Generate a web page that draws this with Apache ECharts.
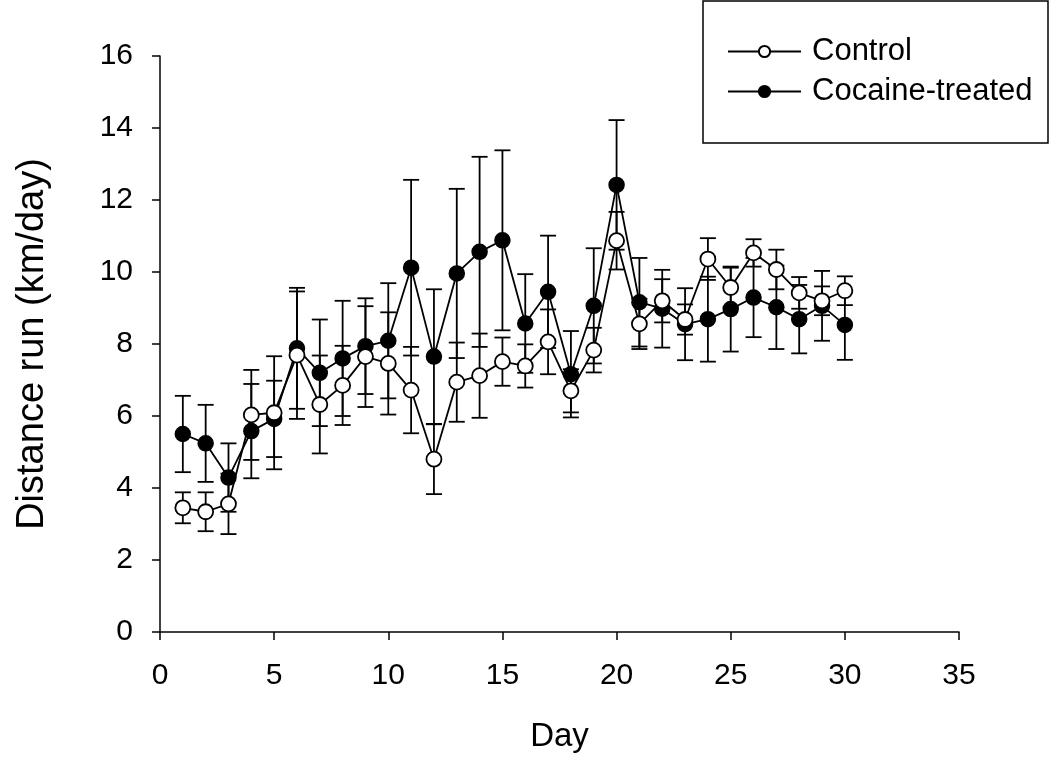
<!DOCTYPE html>
<html>
<head>
<meta charset="utf-8">
<script src="https://cdn.jsdelivr.net/npm/echarts@6/dist/echarts.min.js"></script>
<style>
html,body{margin:0;padding:0;background:#fff;}
#chart{width:1050px;height:759px;}
</style>
</head>
<body>
<div id="chart"></div>
<script>
var days = [1,2,3,4,5,6,7,8,9,10,11,12,13,14,15,16,17,18,19,20,21,22,23,24,25,26,27,28,29,30];
var controlMean = [3.45,3.34,3.56,6.03,6.09,7.69,6.32,6.85,7.65,7.46,6.72,4.8,6.94,7.12,7.51,7.39,8.06,6.7,7.83,10.87,8.56,9.2,8.68,10.36,9.57,10.53,10.07,9.42,9.2,9.48];
var controlErr = [0.43,0.54,0.84,1.25,1.57,1.77,1.36,1.1,1.4,1.42,1.2,0.97,1.1,1.17,0.67,0.6,0.9,0.6,0.62,0.8,0.7,0.6,0.42,0.58,0.55,0.38,0.55,0.44,0.4,0.4];
var cocaineMean = [5.5,5.24,4.29,5.58,5.92,7.88,7.2,7.6,7.94,8.09,10.12,7.65,9.96,10.56,10.88,8.57,9.45,7.16,9.06,12.42,9.16,8.98,8.55,8.69,8.97,9.29,9.02,8.69,9.06,8.53];
var cocaineErr = [1.06,1.07,0.95,1.31,1.06,1.68,1.48,1.6,1.33,1.6,2.44,1.87,2.35,2.64,2.5,1.37,1.56,1.2,1.6,1.8,1.23,1.08,1.0,1.18,1.18,1.1,1.16,0.95,0.97,0.97];
var seriesNames = ['Control', 'Cocaine-treated'];

var FONT = 'Liberation Sans, Arial, sans-serif';

function pairs(means){ return days.map(function(d,i){ return [d, means[i]]; }); }
function errData(means, errs){ return days.map(function(d,i){ return [d, means[i]-errs[i], means[i]+errs[i]]; }); }

function renderErr(params, api){
  var x = api.value(0);
  var lo = api.coord([x, api.value(1)]);
  var hi = api.coord([x, api.value(2)]);
  var w = 8;
  var st = {stroke:'#000', lineWidth:1.8};
  return {type:'group', children:[
    {type:'line', shape:{x1:lo[0], y1:lo[1], x2:hi[0], y2:hi[1]}, style:st},
    {type:'line', shape:{x1:lo[0]-w, y1:lo[1], x2:lo[0]+w, y2:lo[1]}, style:st},
    {type:'line', shape:{x1:hi[0]-w, y1:hi[1], x2:hi[0]+w, y2:hi[1]}, style:st}
  ]};
}

var chart = echarts.init(document.getElementById('chart'), null, {renderer:'canvas'});
chart.setOption({
  backgroundColor:'#fff',
  animation:false,
  textStyle:{fontFamily:FONT},
  grid:{left:160, right:91, top:56, bottom:127},
  legend:{
    orient:'vertical', left:722, top:31,
    itemWidth:73, itemHeight:14, itemGap:9,
    data:seriesNames,
    textStyle:{fontFamily:FONT, fontSize:31, color:'#000', lineHeight:31, padding:[0,0,0,6]}
  },
  graphic:[{type:'rect', shape:{x:703, y:1, width:345, height:142}, style:{fill:'none', stroke:'#000', lineWidth:1.5}, z:100}],
  xAxis:{
    type:'value', min:0, max:35, interval:5,
    name:'Day', nameLocation:'middle', nameGap:88,
    nameTextStyle:{fontFamily:FONT, fontSize:33, color:'#000'},
    axisLine:{lineStyle:{color:'#000', width:1.5}},
    axisTick:{show:true, inside:false, length:8, lineStyle:{color:'#000', width:1.5}},
    axisLabel:{fontFamily:FONT, fontSize:30, color:'#000', margin:29},
    splitLine:{show:false}
  },
  yAxis:{
    type:'value', min:0, max:16, interval:2,
    name:'Distance run (km/day)', nameLocation:'middle', nameGap:108,
    nameTextStyle:{fontFamily:FONT, fontSize:38, color:'#000'},
    axisLine:{show:true, lineStyle:{color:'#000', width:1.5}},
    axisTick:{show:true, inside:false, length:8, lineStyle:{color:'#000', width:1.5}},
    axisLabel:{fontFamily:FONT, fontSize:30, color:'#000', margin:27},
    splitLine:{show:false}
  },
  series:[
    {type:'custom', name:'ctrlErr', renderItem:renderErr, data:errData(controlMean, controlErr), z:1, silent:true},
    {type:'custom', name:'cocErr', renderItem:renderErr, data:errData(cocaineMean, cocaineErr), z:1, silent:true},
    {type:'line', name:seriesNames[1], data:pairs(cocaineMean), symbol:'circle', symbolSize:15,
     lineStyle:{color:'#000', width:1.8}, itemStyle:{color:'#000', borderColor:'#000', borderWidth:1.5}, z:3},
    {type:'line', name:seriesNames[0], data:pairs(controlMean), symbol:'circle', symbolSize:15,
     lineStyle:{color:'#000', width:1.8}, itemStyle:{color:'#fff', borderColor:'#000', borderWidth:1.8}, z:4}
  ]
});
</script>
</body>
</html>
